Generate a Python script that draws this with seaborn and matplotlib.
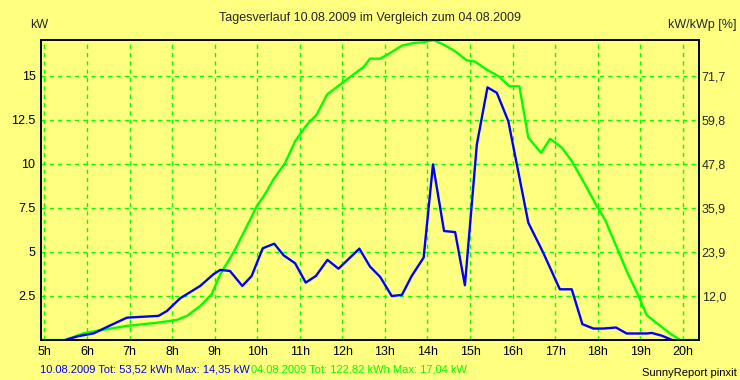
import matplotlib
matplotlib.use("Agg")
import matplotlib.pyplot as plt
import seaborn as sns
import pandas as pd

# Tagesverlauf 10.08.2009 (blau) und 04.08.2009 (gruen), Zeit in Stunden, Leistung in kW
t_1008 = [5.49, 5.80, 6.16, 6.47, 6.94, 7.68, 7.88, 8.19, 8.66, 8.97, 9.13, 9.36,
          9.65, 9.87, 10.13, 10.40, 10.62, 10.89, 11.14, 11.38, 11.65, 11.91, 12.40,
          12.65, 12.89, 13.16, 13.40, 13.63, 13.91, 14.13, 14.39, 14.65, 14.88, 15.16,
          15.41, 15.63, 15.90, 16.37, 16.72, 17.11, 17.39, 17.64, 17.90, 18.13, 18.43,
          18.68, 19.15, 19.27, 19.50, 19.75]
p_1008 = [0.0, 0.22, 0.38, 0.74, 1.27, 1.37, 1.65, 2.37, 3.07, 3.73, 3.98, 3.92,
          3.07, 3.64, 5.21, 5.47, 4.81, 4.36, 3.26, 3.64, 4.55, 4.05, 5.19,
          4.17, 3.58, 2.50, 2.56, 3.64, 4.68, 9.97, 6.19, 6.13, 3.11, 11.10,
          14.35, 14.04, 12.43, 6.66, 4.96, 2.88, 2.88, 0.90, 0.65, 0.65, 0.71,
          0.37, 0.37, 0.40, 0.25, 0.0]

t_0408 = [4.92, 5.49, 5.92, 6.23, 6.94, 7.68, 8.11, 8.35, 8.66, 8.93, 9.13, 9.44,
          9.76, 9.99, 10.19, 10.38, 10.66, 10.89, 11.17, 11.40, 11.64, 11.95, 12.26,
          12.50, 12.65, 12.89, 13.12, 13.40, 13.67, 13.91, 14.14, 14.38, 14.65, 14.92,
          15.12, 15.39, 15.67, 15.93, 16.16, 16.37, 16.67, 16.88, 17.16, 17.39, 17.66,
          17.98, 18.17, 18.45, 18.68, 18.96, 19.15, 19.47, 19.70, 19.94, 20.38]
p_0408 = [0.0, 0.0, 0.38, 0.52, 0.80, 0.99, 1.14, 1.37, 1.93, 2.60, 3.73, 4.96,
          6.47, 7.60, 8.31, 9.12, 10.07, 11.29, 12.24, 12.81, 13.94, 14.51, 15.08,
          15.51, 15.98, 15.98, 16.30, 16.72, 16.87, 16.91, 17.04, 16.78, 16.40, 15.89,
          15.81, 15.36, 14.98, 14.41, 14.41, 11.49, 10.63, 11.43, 10.92, 10.16, 9.02,
          7.60, 6.85, 5.25, 3.92, 2.50, 1.41, 0.80, 0.37, 0.0, 0.0]

x_ticks = list(range(5, 21))
x_labels = [f"{h}h" for h in x_ticks]
y_ticks = [2.5, 5, 7.5, 10, 12.5, 15]
y_labels = ["2.5", "5", "7.5", "10", "12.5", "15"]
kwp = 20.92  # Anlagengroesse fuer rechte Achse

BG = "#FFFF80"
BLUE = "#0000FF"
GREEN = "#00FF00"

sns.set_style("ticks")
plt.rcParams["font.family"] = ["Liberation Sans", "DejaVu Sans"]

fig = plt.figure(figsize=(7.4, 3.8), dpi=100, facecolor=BG)
ax = fig.add_axes([41 / 740, 1 - 340 / 380, (699 - 41) / 740, 300 / 380])
ax.set_facecolor(BG)

df_a = pd.DataFrame({"t": t_0408, "p": p_0408})
df_b = pd.DataFrame({"t": t_1008, "p": p_1008})
sns.lineplot(data=df_a, x="t", y="p", ax=ax, color=GREEN, lw=1.7, zorder=3)
sns.lineplot(data=df_b, x="t", y="p", ax=ax, color=BLUE, lw=1.7, zorder=4)

ax.set_xlim(4.92, 20.38)
ax.set_ylim(0, 17.04)
ax.set_xticks(x_ticks)
ax.set_xticklabels(x_labels)
ax.set_yticks(y_ticks)
ax.set_yticklabels(y_labels)
ax.set_xlabel("")
ax.set_ylabel("")
ax.tick_params(length=0, labelsize=9, pad=4, colors="black")
ax.grid(True, color=GREEN, linestyle=(0, (3, 3)), linewidth=1.0, zorder=1)
for s in ax.spines.values():
    s.set_color("black")
    s.set_linewidth(1.2)

ax2 = ax.twinx()
ax2.set_ylim(ax.get_ylim())
ax2.set_yticks(y_ticks)
ax2.set_yticklabels([f"{v / kwp * 100:.1f}".replace(".", ",") for v in y_ticks])
ax2.tick_params(length=0, labelsize=9, pad=2)
for s in ax2.spines.values():
    s.set_color("black")
    s.set_linewidth(1.2)

fig.text(0.5, 1 - 18 / 380, "Tagesverlauf 10.08.2009 im Vergleich zum 04.08.2009",
         ha="center", va="center", fontsize=9)
fig.text(30 / 740, 1 - 25 / 380, "kW", ha="left", va="center", fontsize=9)
fig.text(737 / 740, 1 - 25 / 380, "kW/kWp [%]", ha="right", va="center", fontsize=9)

# Fusszeile: blauer Text, gruener Text direkt dahinter
t_blue = fig.text(40 / 740, 1 - 370 / 380, "10.08.2009 Tot: 53,52 kWh Max: 14,35 kW",
                  ha="left", va="center", fontsize=8, color=BLUE)
fig.canvas.draw()
bb = t_blue.get_window_extent(renderer=fig.canvas.get_renderer())
fig.text((bb.x1 + 1) / 740, 1 - 370 / 380, "04.08.2009 Tot: 122,82 kWh Max: 17,04 kW",
         ha="left", va="center", fontsize=8, color=GREEN)
fig.text(737 / 740, 1 - 373 / 380, "SunnyReport pinxit", ha="right", va="center",
         fontsize=8, color="black")

fig.savefig("out.png", dpi=100, facecolor=BG)
